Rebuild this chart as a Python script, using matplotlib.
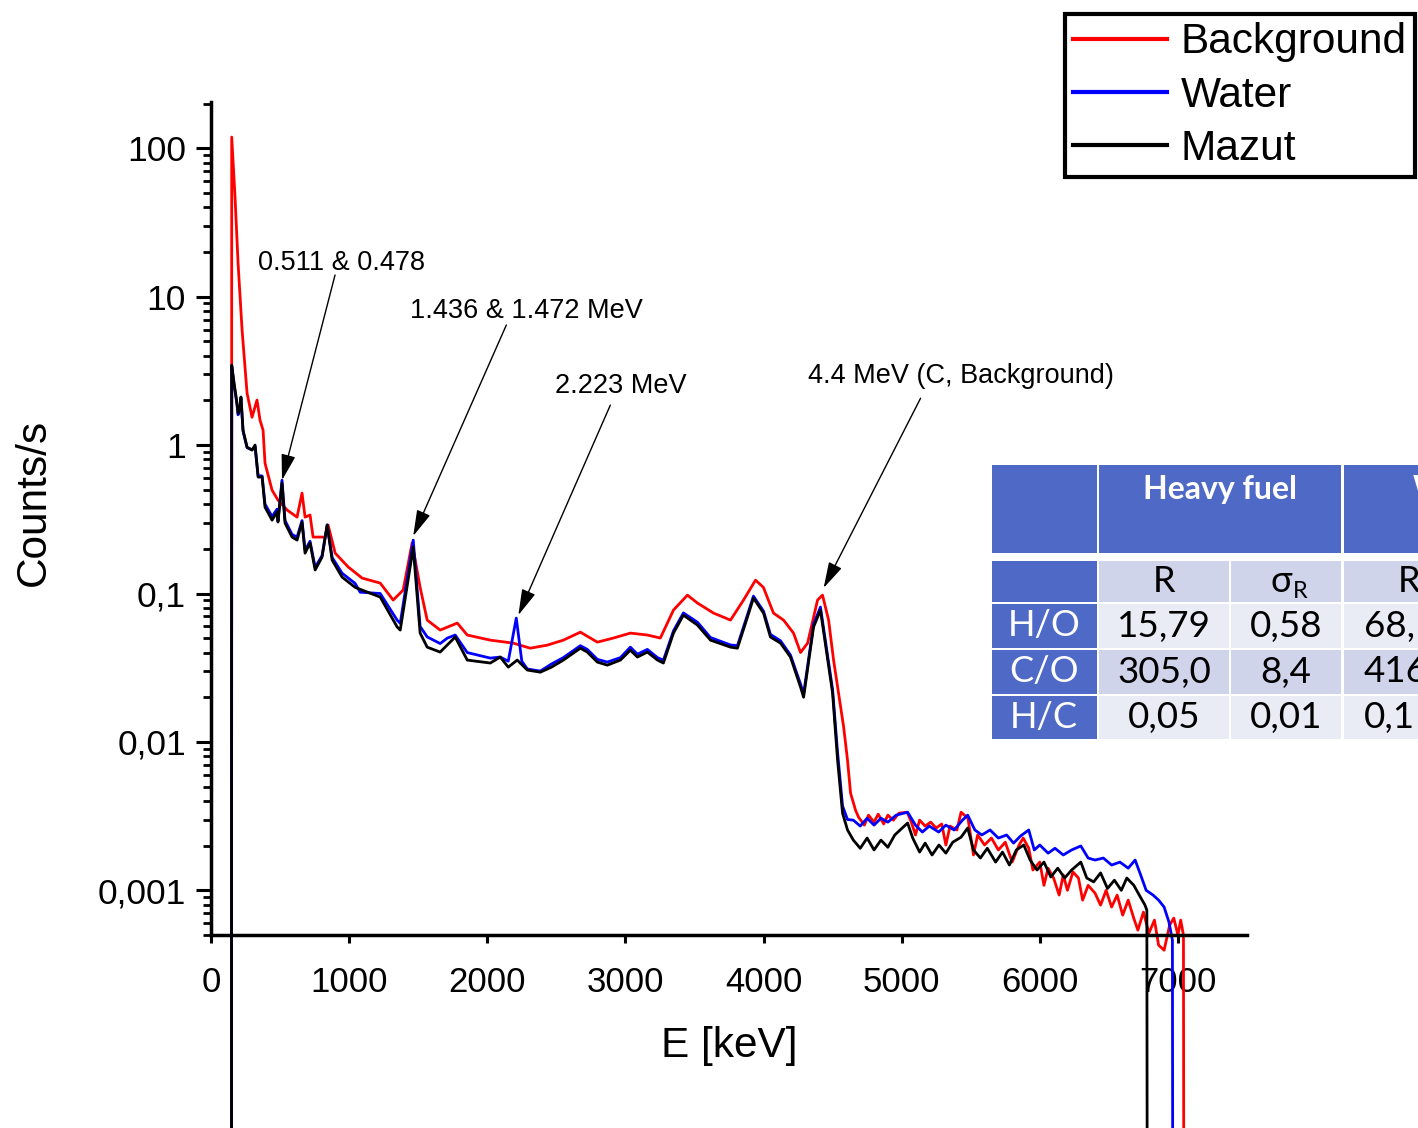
import numpy as np
import matplotlib
matplotlib.use("Agg")
import matplotlib.pyplot as plt
from matplotlib.patches import Rectangle
from matplotlib.ticker import FixedLocator, LogLocator, NullFormatter

# ---------------- data ----------------
bg_E = [148, 150, 174, 196, 225, 261, 297, 333, 355, 377, 391, 442, 485, 551, 623, 659, 681, 717,
        739, 826, 848, 899, 993, 1094, 1225, 1319, 1391, 1456, 1514, 1565, 1659, 1783, 1855, 2022,
        2188, 2311, 2435, 2551, 2674, 2797, 2913, 3036, 3159, 3253, 3348, 3449, 3522, 3638, 3761,
        3855, 3942, 3999, 4072, 4145, 4217, 4268, 4319, 4391, 4427, 4471, 4507, 4543, 4580, 4608,
        4630, 4666, 4688,
        4730, 4760, 4800, 4830, 4870, 4900, 4940, 4980, 5040, 5070, 5100, 5130, 5170, 5210,
        5250, 5290, 5320, 5350, 5400, 5430, 5480, 5520, 5550, 5600, 5650, 5700, 5750, 5800, 5850,
        5880, 5920, 5950, 6000, 6030, 6060, 6100, 6140, 6170, 6200, 6240, 6280, 6310, 6350, 6400,
        6440, 6480, 6520, 6560, 6600, 6640, 6680, 6710, 6750, 6790, 6830, 6860, 6900, 6940, 6970,
        7000, 7020, 7040, 7045]
bg_y = [1e-7, 119, 46.9, 16.8, 5.96, 2.24, 1.54, 2.01, 1.47, 1.26, 0.756, 0.497, 0.426, 0.365,
        0.327, 0.475, 0.327, 0.338, 0.240, 0.240, 0.289, 0.187, 0.151, 0.127, 0.1175, 0.0903,
        0.1054, 0.219, 0.11, 0.0662, 0.0567, 0.0632, 0.0525, 0.0485, 0.0463, 0.0428, 0.0449,
        0.0485, 0.0549, 0.0470, 0.0501, 0.0541, 0.0525, 0.0501, 0.0773, 0.0975, 0.0862, 0.0738,
        0.0662, 0.0903, 0.123, 0.110, 0.0738, 0.0662, 0.0541, 0.040, 0.0463, 0.0903, 0.0975,
        0.0662, 0.0356, 0.0213, 0.0126, 0.00754, 0.00452, 0.00347, 0.00311,
        0.00275, 0.00321, 0.00288, 0.00326, 0.00280, 0.00321, 0.00297, 0.00331, 0.00336,
        0.00288, 0.00236, 0.00297, 0.00271, 0.00288, 0.00263, 0.00280, 0.00202, 0.00271, 0.00255,
        0.00336, 0.00306, 0.00173, 0.00236, 0.00202, 0.00225, 0.00187, 0.00211, 0.00155, 0.00202,
        0.00225, 0.00192, 0.00137, 0.00155, 0.00108, 0.00141, 0.00121, 0.000929, 0.00127, 0.00100,
        0.00133, 0.00121, 0.000859, 0.00108, 0.000957, 0.000795, 0.00100, 0.000771, 0.000929,
        0.000681, 0.000859, 0.000650, 0.000539, 0.000713, 0.000515, 0.000630, 0.000427, 0.000395,
        0.000583, 0.000650, 0.000499, 0.000630, 0.000499, 1e-7]

water_E = [148, 150, 167, 188, 196, 210, 217, 232, 261, 297, 319, 341, 370, 391, 442, 478, 485, 514,
           536, 587, 623, 659, 681, 717, 754, 804, 841, 877, 949, 1043, 1080, 1225, 1348, 1370,
           1464, 1514, 1565, 1659, 1710, 1768, 1855, 2022, 2094, 2152, 2210, 2250, 2290, 2384,
           2465, 2551, 2674, 2724, 2797, 2869, 2964, 3036, 3087, 3159, 3232, 3275, 3348, 3420,
           3522, 3616, 3761, 3811, 3884, 3927, 4000, 4050, 4123, 4195, 4268, 4290, 4362, 4412,
           4500, 4536, 4572, 4608,
           4650, 4700, 4750, 4800, 4850, 4900, 4960, 5043, 5100, 5150, 5200, 5268, 5320, 5380,
           5440, 5478, 5530, 5580, 5640, 5700, 5760, 5810, 5860, 5920, 5960, 6000, 6060, 6110,
           6170, 6230, 6297, 6350, 6400, 6460, 6520, 6580, 6640, 6690, 6730, 6770, 6820, 6860,
           6900, 6935, 6960, 6965]
water_y = [1e-7, 3.4, 2.55, 1.88, 1.60, 1.76, 2.05, 1.24, 0.96, 0.93, 0.98, 0.62, 0.62, 0.40, 0.33,
           0.37, 0.31, 0.58, 0.31, 0.25, 0.24, 0.31, 0.195, 0.225, 0.15, 0.18, 0.29, 0.175, 0.137,
           0.117, 0.102, 0.100, 0.066, 0.063, 0.229, 0.060, 0.051, 0.046, 0.050, 0.0525, 0.040,
           0.0367, 0.0373, 0.035, 0.0683, 0.035, 0.031, 0.030, 0.0335, 0.037, 0.0445, 0.042,
           0.036, 0.0345, 0.037, 0.0435, 0.039, 0.042, 0.037, 0.0355, 0.056, 0.074, 0.064, 0.0505,
           0.045, 0.0445, 0.072, 0.096, 0.076, 0.053, 0.048, 0.0385, 0.0245, 0.0210, 0.062, 0.081,
           0.0225, 0.0085, 0.0037, 0.0030,
           0.00297, 0.00271, 0.00306, 0.00275, 0.00306, 0.00288, 0.00321, 0.00336, 0.00275,
           0.00247, 0.00271, 0.00247, 0.00275, 0.00255, 0.00297, 0.00321, 0.00255, 0.00236,
           0.00255, 0.00225, 0.00236, 0.00208, 0.00232, 0.00255, 0.00187, 0.00202, 0.00178,
           0.00192, 0.00173, 0.00187, 0.00199, 0.00165, 0.00160, 0.00165, 0.00148, 0.00155,
           0.00141, 0.00160, 0.00127, 0.00100, 0.000929, 0.000859, 0.000771, 0.000611, 0.000462,
           1e-7]

mazut_E = [148, 150, 167, 188, 196, 210, 217, 232, 261, 297, 319, 341, 370, 391, 442, 478, 485, 514,
           536, 587, 623, 659, 681, 717, 754, 804, 841, 877, 949, 1043, 1225, 1348, 1370, 1464,
           1514, 1565, 1659, 1768, 1855, 2022, 2094, 2152, 2217, 2290, 2384, 2465, 2551, 2674,
           2724, 2797, 2869, 2964, 3036, 3087, 3159, 3232, 3275, 3348, 3420, 3522, 3616, 3761,
           3811, 3884, 3927, 4000, 4050, 4123, 4195, 4268, 4290, 4362, 4412, 4500, 4536, 4572,
           4608,
           4650, 4700, 4750, 4800, 4850, 4900, 4950, 5043, 5080, 5130, 5170, 5220, 5270, 5320,
           5370, 5430, 5478, 5520, 5570, 5620, 5680, 5730, 5780, 5830, 5884, 5930, 5980, 6030,
           6080, 6130, 6180, 6230, 6297, 6340, 6390, 6440, 6490, 6540, 6590, 6630, 6681, 6720,
           6760, 6775, 6780]
mazut_y = [1e-7, 3.46, 2.62, 1.92, 1.64, 1.80, 2.11, 1.26, 0.969, 0.925, 1.0, 0.609, 0.609, 0.382,
           0.312, 0.354, 0.303, 0.555, 0.298, 0.240, 0.229, 0.303, 0.187, 0.219, 0.144, 0.176,
           0.289, 0.168, 0.129, 0.110, 0.0946, 0.0594, 0.0567, 0.205, 0.0541, 0.0435, 0.0403,
           0.0509, 0.0356, 0.0340, 0.0373, 0.0319, 0.0356, 0.0305, 0.0295, 0.0319, 0.0356, 0.0428,
           0.0403, 0.0345, 0.0329, 0.0356, 0.0415, 0.0373, 0.0403, 0.0356, 0.0340, 0.0541, 0.0715,
           0.0612, 0.0485, 0.0435, 0.0428, 0.0696, 0.0931, 0.0738, 0.0509, 0.0463, 0.0373, 0.0234,
           0.0200, 0.0594, 0.0773, 0.0213, 0.00754, 0.00331, 0.00255,
           0.00218, 0.00192, 0.00225, 0.00187, 0.00218, 0.00195, 0.00236, 0.00284, 0.00225,
           0.00181, 0.00208, 0.00173, 0.00202, 0.00178, 0.00211, 0.00228, 0.00263, 0.00187,
           0.00165, 0.00192, 0.00155, 0.00181, 0.00148, 0.00187, 0.00202, 0.00160, 0.00137,
           0.00155, 0.00123, 0.00141, 0.00121, 0.00137, 0.00155, 0.00121, 0.00114, 0.00131,
           0.00103, 0.00117, 0.00100, 0.00121, 0.00108, 0.000929, 0.000800, 0.000736, 1e-7]

series_names = ["Background", "Water", "Mazut"]

x_ticks = [0, 1000, 2000, 3000, 4000, 5000, 6000, 7000]
x_tick_labels = ["0", "1000", "2000", "3000", "4000", "5000", "6000", "7000"]
y_ticks = [1e-3, 1e-2, 1e-1, 1, 10, 100]
y_tick_labels = ["0,001", "0,01", "0,1", "1", "10", "100"]

# annotations: label, arrow tip (keV, counts/s), arrow start, text centre
ann_labels = ["0.511 & 0.478", "1.436 & 1.472 MeV", "2.223 MeV", "4.4 MeV (C, Background)"]
ann_tip = [(514, 0.58), (1464, 0.244), (2225, 0.0715), (4435, 0.109)]
ann_start = [(898, 14.0), (2138, 6.44), (2891, 1.86), (5137, 2.07)]
ann_text = [(942, 16.8), (2283, 8.0), (2964, 2.50), (5427, 2.92)]

# table
table_groups = ["Heavy fuel", "Water"]
table_sub = ["R", "σ", "R"]
row_labels = ["H/O", "C/O", "H/C"]
heavy_R = ["15,79", "305,0", "0,05"]
heavy_sigma = ["0,58", "8,4", "0,01"]
water_R_visible = ["68,", "416", "0,1"]

# ---------------- figure ----------------
W, H = 1418, 1128
fig = plt.figure(figsize=(W / 100, H / 100), dpi=100)
ax = fig.add_axes([211 / W, 1 - 935 / H, (1247 - 211) / W, (935 - 102) / H])

SANS = ["Liberation Sans", "DejaVu Sans"]
colors = ["#FF0000", "#0000FF", "#000000"]
for E, y, c, n in zip([bg_E, water_E, mazut_E], [bg_y, water_y, mazut_y], colors, series_names):
    ax.plot(E, y, color=c, lw=2.0, clip_on=False, label=n)

ax.set_yscale("log")
ax.set_xlim(0, 7500)
ax.set_ylim(5e-4, 205)

for s in ["top", "right"]:
    ax.spines[s].set_visible(False)
for s in ["left", "bottom"]:
    ax.spines[s].set_linewidth(2.5)

ax.xaxis.set_major_locator(FixedLocator(x_ticks))
ax.set_xticklabels(x_tick_labels, fontfamily=SANS, fontsize=25)
ax.xaxis.set_minor_locator(FixedLocator([0, 2000, 4000, 6000]))
ax.tick_params(axis="x", which="major", length=6, width=2.2, pad=16, direction="out")
ax.tick_params(axis="x", which="minor", length=12, width=2.2, direction="out")

ax.yaxis.set_major_locator(FixedLocator(y_ticks))
ax.set_yticklabels(y_tick_labels, fontfamily=SANS, fontsize=25.5)
ax.yaxis.set_minor_locator(LogLocator(base=10, subs=np.arange(2, 10), numticks=20))
ax.yaxis.set_minor_formatter(NullFormatter())
ax.tick_params(axis="y", which="major", length=11, width=2.2, pad=7, direction="out")
ax.tick_params(axis="y", which="minor", length=5.5, width=2.0, direction="out")

ax.set_xlabel("E [keV]", fontfamily=SANS, fontsize=30.5, labelpad=20)
ax.set_ylabel("Counts/s", fontfamily=SANS, fontsize=30.5)
ax.yaxis.set_label_coords(-0.152, 0.519)

for lab, tip, st, tp in zip(ann_labels, ann_tip, ann_start, ann_text):
    ax.annotate("", xy=tip, xytext=st, xycoords="data", textcoords="data",
                arrowprops=dict(arrowstyle="-|>,head_length=0.8,head_width=0.22",
                                color="black", lw=1.0, mutation_scale=20,
                                shrinkA=0, shrinkB=0))
    ax.text(tp[0], tp[1], lab, ha="center", va="center", fontfamily=SANS, fontsize=19.5)

# legend
leg = fig.legend(loc="upper left", bbox_to_anchor=(1065 / W, 1 - 14 / H),
                 bbox_transform=fig.transFigure, borderaxespad=0,
                 prop={"family": SANS, "size": 30.5}, frameon=True, fancybox=False,
                 framealpha=1, edgecolor="black", handlelength=2.2, handletextpad=0.33,
                 labelspacing=0.31, borderpad=0.2)
leg.get_frame().set_linewidth(3)
for h in leg.legend_handles:
    h.set_linewidth(3)

# ---------------- table (figure pixel coordinates) ----------------
HEAD = "#4F69C6"
DARK = "#CFD4EB"
LIGHT = "#E9EBF5"
TF = ["Lato", "DejaVu Sans"]


def cell(x0, x1, y0, y1, color):
    fig.add_artist(Rectangle((x0 / W, 1 - y1 / H), (x1 - x0) / W, (y1 - y0) / H,
                             transform=fig.transFigure, facecolor=color, edgecolor="none",
                             zorder=5))


def ftext(px, py, s, **kw):
    fig.text(px / W, 1 - py / H, s, zorder=6, **kw)


cols = [(992, 1097), (1099, 1229), (1231, 1341), (1344, 1474), (1476, 1586)]
rows = [(561, 602), (604, 648), (650, 694), (696, 739)]

# header
cell(992, 1097, 465, 553, HEAD)
cell(1099, 1341, 465, 553, HEAD)
cell(1344, 1586, 465, 553, HEAD)
ftext(1220, 489, table_groups[0], ha="center", va="center", color="white",
      fontfamily=TF, fontsize=23, fontweight="bold")
ftext(1458, 489, table_groups[1], ha="center", va="center", color="white",
      fontfamily=TF, fontsize=23, fontweight="bold")

row_colors = [DARK, LIGHT, DARK, LIGHT]
for i, (y0, y1) in enumerate(rows):
    cell(cols[0][0], cols[0][1], y0, y1, HEAD)
    for (x0, x1) in cols[1:]:
        cell(x0, x1, y0, y1, row_colors[i])

# sub header
ym = (rows[0][0] + rows[0][1]) / 2
ftext(1164, ym, table_sub[0], ha="center", va="center", fontfamily=TF, fontsize=26)
ftext(1281, ym, table_sub[1], ha="center", va="center", fontfamily=TF, fontsize=26)
ftext(1300, ym + 10, "R", ha="center", va="center", fontfamily=TF, fontsize=17)
ftext(1409, ym, table_sub[2], ha="center", va="center", fontfamily=TF, fontsize=26)

for i, lab in enumerate(row_labels):
    y0, y1 = rows[i + 1]
    yc = (y0 + y1) / 2
    ftext(1044, yc, lab, ha="center", va="center", color="white", fontfamily=TF, fontsize=26)
    ftext(1164, yc, heavy_R[i], ha="center", va="center", fontfamily=TF, fontsize=26.5)
    ftext(1286, yc, heavy_sigma[i], ha="center", va="center", fontfamily=TF, fontsize=26.5)
    ftext(1364, yc, water_R_visible[i], ha="left", va="center", fontfamily=TF, fontsize=26.5)

fig.savefig("out.png", dpi=100)
